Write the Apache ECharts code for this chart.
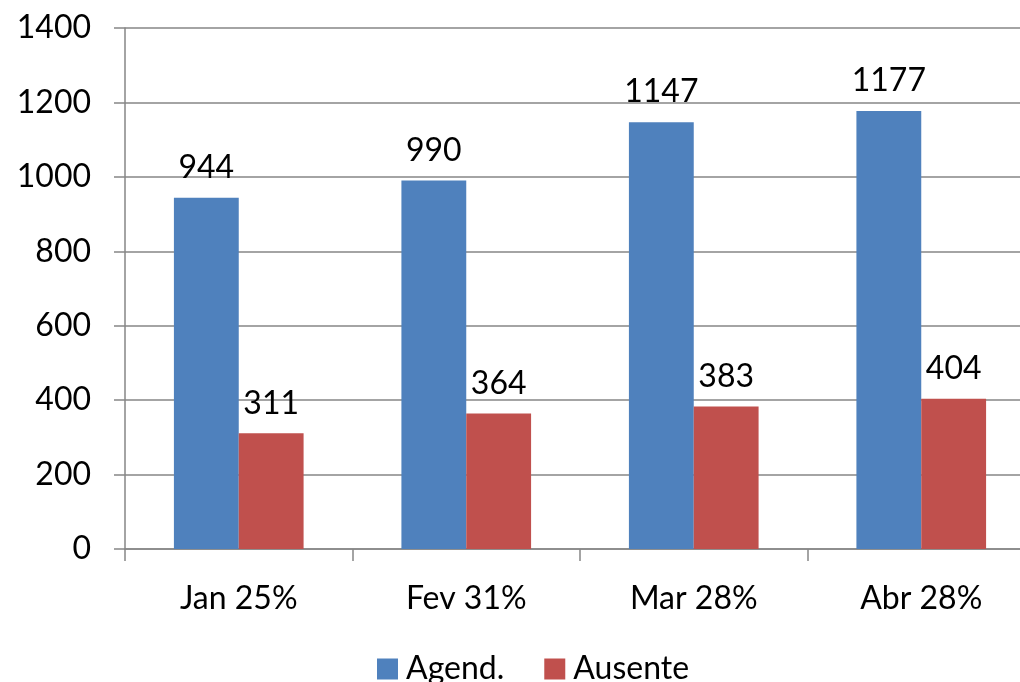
<!DOCTYPE html>
<html>
<head>
<meta charset="utf-8">
<script src="https://cdn.jsdelivr.net/npm/echarts@6/dist/echarts.min.js"></script>
<style>
    html, body { margin: 0; padding: 0; background: #fff; }
    #chart { width: 1020px; height: 682px; }
</style>
</head>
<body>
<div id="chart"></div>
<script>
    // dados do gráfico
    const categories = ['Jan 25%', 'Fev 31%', 'Mar 28%', 'Abr 28%'];
    const agendados = [944, 990, 1147, 1177];
    const ausentes = [311, 364, 383, 404];

    const font = 'Lato, "Open Sans", sans-serif';
    const labelStyle = { show: true, position: 'top', distance: 14, color: '#000', fontSize: 32, fontFamily: font };

    const chart = echarts.init(document.getElementById('chart'));
    chart.setOption({
        animation: false,
        textStyle: { fontFamily: font },
        grid: { left: 125, width: 910, top: 28, bottom: 133, outerBoundsMode: 'none', containLabel: false },
        legend: {
            bottom: -8, left: 372,
            itemWidth: 21, itemHeight: 21, itemGap: 40,
            icon: 'rect',
            textStyle: { fontSize: 32, color: '#000', fontFamily: font, padding: [0, 0, 0, 3] },
            data: ['Agend.', 'Ausente']
        },
        xAxis: {
            type: 'category',
            data: categories,
            axisLine: { lineStyle: { color: '#868686', width: 1.5 } },
            axisTick: { show: true, length: 12, lineStyle: { color: '#868686', width: 1.5 } },
            axisLabel: { color: '#000', fontSize: 32, margin: 34, fontFamily: font }
        },
        yAxis: {
            type: 'value',
            min: 0, max: 1400, interval: 200,
            axisLine: { show: true, lineStyle: { color: '#868686', width: 1.5 } },
            axisTick: { show: true, length: 11, lineStyle: { color: '#868686', width: 1.5 } },
            splitLine: { lineStyle: { color: '#868686', width: 1.5 } },
            axisLabel: { color: '#000', fontSize: 32, margin: 34, fontFamily: font, formatter: v => String(v) }
        },
        series: [
            {
                name: 'Agend.', type: 'bar', data: agendados,
                barGap: 0, barCategoryGap: '43%',
                itemStyle: { color: '#4F81BD' },
                label: labelStyle
            },
            {
                name: 'Ausente', type: 'bar', data: ausentes,
                barGap: 0, barCategoryGap: '43%',
                itemStyle: { color: '#C0504D' },
                label: labelStyle
            }
        ]
    });
</script>
</body>
</html>
